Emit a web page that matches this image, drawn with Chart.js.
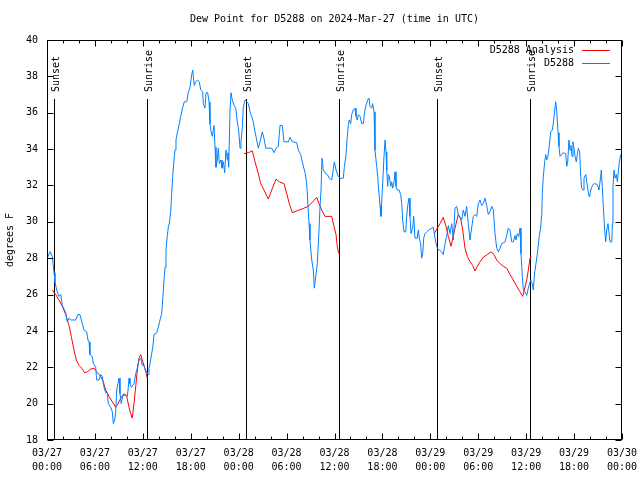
<!DOCTYPE html>
<html><head><meta charset="utf-8">
<script src="https://cdn.jsdelivr.net/npm/chart.js@4.4.1/dist/chart.umd.min.js"></script>
<style>html,body{margin:0;padding:0;background:#fff}canvas{display:block}</style>
</head><body>
<canvas id="c" width="640" height="480"></canvas>
<script>
const TITLE = 'Dew Point for D5288 on 2024-Mar-27 (time in UTC)';
const Y_LABEL = 'degrees F';
const SERIES_OBS = 'D5288';
const SERIES_ANA = 'D5288 Analysis';
const xTickHours = [0,6,12,18,24,30,36,42,48,54,60,66,72];
const yTickValues = [18,20,22,24,26,28,30,32,34,36,38,40];
const sunEventHours = [0.92, 12.56, 24.96, 36.6, 48.87, 60.52];
const sunEventLabels = ['Sunset','Sunrise','Sunset','Sunrise','Sunset','Sunrise'];

// observations [hours since 03/27 00:00 UTC, dew point F]
const obsMar27 = [[0.04,28.0],[0.38,28.36],[0.66,28.1],[0.88,27.2],[1.0,26.7],[1.21,26.25],[1.5,25.9],[1.72,26.0],[1.92,25.4],[2.34,25.0],[2.54,24.5],[2.75,24.7],[2.97,24.6],[3.59,24.6],[3.88,24.9],[4.13,24.9],[4.42,24.4],[4.63,24.05],[4.97,23.95],[5.13,23.5],[5.26,23.4],[5.38,22.7],[5.67,22.6],[5.8,22.2],[6.1,22.0],[6.22,21.3],[6.51,21.3],[6.72,21.6],[6.92,21.5],[7.14,20.9],[7.35,20.6],[7.55,20.6],[7.68,20.0],[7.98,19.8],[8.18,19.55],[8.3,18.9],[8.48,19.1],[8.6,19.55],[8.73,20.75],[8.89,21.1],[9.02,21.4],[9.14,20.55],[9.3,20.0],[9.48,20.4],[9.85,20.5],[10.06,20.4],[10.18,20.9],[10.27,21.4],[10.39,21.1],[10.56,20.9],[10.89,21.1],[11.11,21.65],[11.31,21.95],[11.52,22.4],[11.73,22.5],[11.93,22.1],[12.06,22.2],[12.23,21.95],[12.48,21.75],[12.65,21.6],[12.77,21.95],[12.9,22.2],[13.24,23.1],[13.4,23.8],[13.74,23.9],[13.94,24.2],[14.15,24.6],[14.36,24.95],[14.49,25.7],[14.65,26.8],[14.78,27.5],[14.9,28.45],[15.06,29.2],[15.19,29.7],[15.31,29.9],[15.49,30.55],[15.61,31.55],[15.74,32.5],[15.9,33.4],[16.03,33.95],[16.15,34.5],[16.32,34.9],[16.57,35.4],[16.74,35.8],[16.99,36.3],[17.19,36.6],[17.49,36.6],[17.69,37.1],[17.91,37.4],[18.12,38.1],[18.24,38.35],[18.32,38.0],[18.44,37.5],[18.62,37.7],[18.82,37.8],[19.07,37.7],[19.25,37.25],[19.5,37.15],[19.57,36.5],[19.78,36.25],[19.91,37.1],[20.12,37.1],[20.29,36.6],[20.41,35.4],[20.54,34.95],[20.7,34.7],[20.91,35.3],[21.04,34.1],[21.16,33.0],[21.32,33.4],[21.45,34.05],[21.58,33.2],[21.79,33.4],[21.91,32.95],[22.08,33.3],[22.25,32.7],[22.41,33.95],[22.58,33.4],[22.66,33.8],[22.75,33.0],[22.92,36.15],[23.04,37.1],[23.2,36.7],[23.42,36.4],[23.63,36.25],[23.83,35.5],[24.0,35.05]];
const obsMar28 = [[24.17,34.05],[24.29,34.4],[24.46,35.2],[24.58,36.3],[24.79,36.7],[25.01,36.6],[25.21,36.5],[25.42,36.05],[25.63,35.8],[25.83,35.5],[26.05,34.95],[26.26,34.5],[26.46,34.05],[26.67,34.4],[26.96,34.95],[27.17,34.6],[27.39,34.05],[28.14,34.05],[28.43,33.8],[28.68,34.05],[28.96,34.15],[29.18,35.3],[29.46,35.3],[29.68,34.4],[30.22,34.4],[30.43,34.65],[30.72,34.4],[31.27,34.35],[31.47,33.95],[31.77,33.7],[32.02,33.2],[32.31,32.7],[32.52,32.1],[32.64,31.2],[32.81,29.9],[32.93,29.0],[33.15,27.9],[33.35,27.35],[33.47,26.35],[33.65,27.0],[33.85,27.7],[34.06,29.55],[34.19,30.85],[34.31,31.75],[34.44,33.5],[34.6,32.85],[34.81,32.7],[35.1,32.6],[35.35,32.4],[35.65,32.3],[35.98,33.3],[36.19,32.85],[36.48,32.5],[36.69,32.4],[37.1,32.4],[37.23,33.0],[37.44,33.7],[37.6,34.7],[37.73,35.3],[37.85,35.6],[38.03,35.4],[38.15,35.9],[38.35,36.15],[38.57,36.25],[38.69,35.8],[38.86,35.6],[38.98,35.9],[39.19,35.8],[39.41,35.4],[39.61,35.4],[39.73,35.95],[39.94,36.4],[40.16,36.7],[40.32,36.8],[40.45,36.35],[40.66,36.25],[40.78,36.5],[40.95,36.05],[41.07,33.95],[41.28,33.05],[41.41,32.5],[41.49,31.95],[41.61,31.4],[41.7,30.9],[41.82,30.3],[41.99,31.75],[42.2,33.6],[42.33,34.5],[42.45,33.85],[42.54,32.85],[42.66,31.95],[42.74,32.6],[42.86,32.5],[43.04,31.95],[43.16,32.2],[43.29,31.85],[43.45,32.2],[43.58,32.75],[43.7,31.95],[43.86,31.75],[44.08,31.75],[44.29,31.5],[44.42,31.0],[44.54,30.1],[44.7,29.45],[44.92,29.45],[45.04,30.3],[45.17,30.9],[45.33,31.3],[45.45,30.3],[45.58,29.35],[45.79,29.7],[45.92,30.3],[46.08,29.1],[46.37,29.1],[46.49,29.55],[46.62,29.1],[46.79,28.8],[46.92,28.0],[47.05,28.25],[47.17,29.1],[47.33,29.35],[47.55,29.45],[47.96,29.6]];
const obsMar29 = [[48.37,29.7],[48.5,29.35],[48.67,28.9],[48.87,28.55],[49.12,28.45],[49.42,28.35],[49.62,28.2],[49.84,28.8],[50.05,29.2],[50.25,29.8],[50.46,29.35],[50.68,29.9],[50.88,29.0],[51.09,30.75],[51.3,30.85],[51.5,30.4],[51.72,30.2],[51.93,30.1],[52.13,30.65],[52.34,30.3],[52.55,30.85],[52.75,29.9],[52.97,29.0],[53.18,29.7],[53.38,30.3],[53.59,30.4],[53.81,30.3],[54.01,31.0],[54.22,31.2],[54.43,30.9],[54.63,31.0],[54.85,31.3],[55.06,30.9],[55.26,30.4],[55.47,30.55],[55.69,30.85],[55.89,30.65],[56.1,29.35],[56.31,28.55],[56.51,28.35],[56.72,28.55],[56.94,28.8],[57.35,28.9],[57.56,29.25],[57.76,29.65],[57.98,29.55],[58.19,28.9],[58.39,28.9],[58.6,29.25],[58.73,29.0],[58.89,29.35],[59.07,29.2],[59.23,29.65],[59.35,28.25],[59.52,27.0],[59.64,26.25],[59.85,26.15],[60.07,25.95],[60.27,26.35],[60.36,26.5],[60.57,26.8],[60.77,26.6],[60.89,26.25],[61.07,27.25],[61.23,27.7],[61.4,28.25],[61.52,28.7],[61.65,29.25],[61.82,29.7],[61.95,30.4],[62.02,31.55],[62.15,32.5],[62.32,33.3],[62.45,33.7],[62.57,33.4],[62.73,33.6],[62.9,34.2],[63.07,34.95],[63.27,35.05],[63.4,35.4],[63.57,36.15],[63.7,36.6],[63.82,36.15],[63.99,34.9],[64.11,34.15],[64.24,33.6],[64.45,33.7],[64.65,33.8],[64.95,33.75],[65.08,33.05],[65.2,33.3],[65.36,34.5],[65.49,33.95],[65.61,34.2],[65.74,33.6],[65.86,34.4],[65.99,34.05],[66.12,33.6],[66.28,33.3],[66.4,33.7],[66.53,34.05],[66.7,33.85],[66.83,32.5],[66.95,31.85],[67.12,31.75],[67.24,32.4],[67.46,32.6],[67.58,32.2],[67.74,31.75],[67.87,31.4],[67.99,31.55],[68.16,31.85],[68.37,32.05],[68.58,32.1],[68.91,32.05],[69.12,31.75],[69.33,32.5],[69.41,32.85],[69.53,31.95],[69.66,30.85],[69.83,29.55],[69.96,28.9],[70.09,29.55],[70.25,29.9],[70.38,29.35],[70.5,28.9],[70.72,28.9],[70.79,29.9],[70.87,31.95],[71.0,32.85],[71.13,32.4],[71.29,32.6],[71.42,32.2],[71.54,32.75],[71.67,33.3],[71.84,33.7]];

// analysis (night-time segments)
const anaNight1 = [[0.66,26.25],[1.09,26.0],[1.5,25.7],[1.92,25.35],[2.34,24.9],[2.75,24.3],[3.04,23.7],[3.38,22.95],[3.67,22.4],[4.01,22.1],[4.35,21.95],[4.72,21.7],[5.05,21.75],[5.47,21.9],[5.89,21.95],[6.22,21.75],[6.72,21.5],[7.05,21.2],[7.35,20.75],[7.76,20.4],[8.18,20.1],[8.6,19.8],[8.89,20.0],[9.23,20.3],[9.64,20.55],[9.98,20.4],[10.27,19.8],[10.48,19.45],[10.68,19.2],[10.89,20.0],[11.11,20.95],[11.31,21.85],[11.52,22.5],[11.73,22.7],[11.93,22.4],[12.15,22.1],[12.36,21.75],[12.56,21.4]];
const anaNight2 = [[24.67,33.75],[25.21,33.8],[25.71,33.9],[26.05,33.3],[26.46,32.65],[26.76,32.1],[27.17,31.75],[27.71,31.25],[28.14,31.75],[28.68,32.35],[29.09,32.2],[29.68,32.1],[30.02,31.55],[30.34,31.0],[30.72,30.5],[31.27,30.6],[31.89,30.7],[32.72,30.85],[33.27,31.1],[33.77,31.35],[34.06,31.0],[34.4,30.65],[34.81,30.3],[35.65,30.3],[35.94,29.75],[36.19,29.3],[36.35,28.65],[36.53,28.25]];
const anaNight3 = [[48.5,29.35],[48.87,29.65],[49.21,29.9],[49.62,30.25],[49.96,29.75],[50.25,29.2],[50.59,28.65],[50.88,29.25],[51.22,29.9],[51.5,30.4],[51.8,30.2],[52.05,29.55],[52.34,28.55],[52.63,28.1],[52.97,27.8],[53.31,27.6],[53.59,27.3],[53.88,27.55],[54.22,27.8],[54.63,28.05],[55.13,28.2],[55.6,28.35],[55.97,28.2],[56.31,27.9],[56.72,27.7],[57.14,27.55],[57.56,27.45],[57.98,27.1],[58.39,26.8],[58.82,26.45],[59.23,26.15],[59.57,25.9],[59.77,26.25],[60.07,26.8],[60.27,27.35],[60.48,28.0],[60.57,28.1]];

const FONT = '"DejaVu Sans Mono", "Liberation Mono", monospace';
const BLUE = 'rgb(0,128,255)';
const RED = 'rgb(255,0,0)';

const toPts = arr => arr.map(p => ({x: p[0], y: p[1]}));
const obsData = toPts([...obsMar27, ...obsMar28, ...obsMar29]);
const gap = h => ({x: h, y: null});
const anaData = [...toPts(anaNight1), gap(18), ...toPts(anaNight2), gap(42), ...toPts(anaNight3)];

function fmtTick(v){
  const day = 27 + Math.floor(v / 24);
  const hr = v % 24;
  return ['03/' + day, (hr < 10 ? '0' : '') + hr + ':00'];
}

const decor = {
  id: 'decor',
  beforeDatasetsDraw(chart){
    const {ctx, chartArea: a, scales: {x}} = chart;
    ctx.save();
    ctx.strokeStyle = '#000'; ctx.lineWidth = 1;
    ctx.fillStyle = '#000';
    ctx.font = '10px ' + FONT;
    sunEventHours.forEach((h, i) => {
      const px = Math.round(x.getPixelForValue(h)) + 0.5;
      ctx.beginPath(); ctx.moveTo(px, a.top + 59); ctx.lineTo(px, a.bottom); ctx.stroke();
      ctx.save();
      ctx.translate(px + 1.5, a.top + 52);
      ctx.rotate(-Math.PI / 2);
      ctx.textAlign = 'left'; ctx.textBaseline = 'middle';
      ctx.fillText(sunEventLabels[i], 0, 0);
      ctx.restore();
    });
    ctx.restore();
  },
  afterDraw(chart){
    const {ctx, chartArea: a, scales: {x, y}} = chart;
    ctx.save();
    ctx.strokeStyle = '#000'; ctx.lineWidth = 1;
    const L = Math.round(a.left) + 0.5, R = Math.round(a.right) - 0.5;
    const T = Math.round(a.top) + 0.5, B = Math.round(a.bottom) - 0.5;
    ctx.strokeRect(L, T, R - L, B - T);
    ctx.beginPath();
    for (let h = 0; h <= 72; h += 2){
      const px = Math.round(x.getPixelForValue(h)) + 0.5;
      const len = (h % 6 === 0) ? 6 : 3;
      ctx.moveTo(px, B); ctx.lineTo(px, B - len);
      ctx.moveTo(px, T); ctx.lineTo(px, T + len);
    }
    yTickValues.forEach(v => {
      const py = Math.round(y.getPixelForValue(v)) + 0.5;
      ctx.moveTo(L, py); ctx.lineTo(L + 6, py);
      ctx.moveTo(R, py); ctx.lineTo(R - 6, py);
    });
    ctx.stroke();

    ctx.fillStyle = '#000';
    ctx.font = '10px ' + FONT;
    ctx.textAlign = 'center'; ctx.textBaseline = 'middle';
    ctx.fillText(TITLE, (a.left + a.right) / 2, 19);
    ctx.save();
    ctx.translate(10, (a.top + a.bottom) / 2);
    ctx.rotate(-Math.PI / 2);
    ctx.fillText(Y_LABEL, 0, 0);
    ctx.restore();

    // legend
    ctx.textAlign = 'right';
    const lx = a.right - 48;
    [[SERIES_ANA, RED, a.top + 10], [SERIES_OBS, BLUE, a.top + 23]].forEach(([t, c, ly]) => {
      ctx.fillStyle = '#000';
      ctx.fillText(t, lx, ly);
      ctx.strokeStyle = c;
      ctx.beginPath(); ctx.moveTo(lx + 8, Math.round(ly) + 0.5); ctx.lineTo(lx + 36, Math.round(ly) + 0.5); ctx.stroke();
    });
    ctx.restore();
  }
};

new Chart(document.getElementById('c'), {
  type: 'line',
  data: {
    datasets: [
      {label: SERIES_OBS, data: obsData, borderColor: BLUE, borderWidth: 1, pointRadius: 0, tension: 0, fill: false, order: 0},
      {label: SERIES_ANA, data: anaData, borderColor: RED, borderWidth: 1, pointRadius: 0, tension: 0, fill: false, spanGaps: false, order: 1}
    ]
  },
  options: {
    responsive: false, animation: false, devicePixelRatio: 1,
    layout: {padding: {top: 40, right: 18, left: 0, bottom: 0}},
    plugins: {legend: {display: false}, tooltip: {enabled: false}, title: {display: false}},
    scales: {
      x: {
        type: 'linear', min: 0, max: 72,
        grid: {display: false, drawTicks: false}, border: {display: false},
        afterBuildTicks(s){ s.ticks = xTickHours.map(v => ({value: v})); },
        afterFit(s){ s.height = 40; s.paddingLeft = 0; s.paddingRight = 0; },
        ticks: {autoSkip: false, maxRotation: 0, minRotation: 0, padding: 6, color: '#000',
          font: {family: FONT, size: 10, lineHeight: 1.4}, callback: v => fmtTick(v)}
      },
      y: {
        type: 'linear', min: 18, max: 40,
        grid: {display: false, drawTicks: false}, border: {display: false},
        afterBuildTicks(s){ s.ticks = yTickValues.map(v => ({value: v})); },
        afterFit(s){ s.width = 47; s.paddingTop = 0; s.paddingBottom = 0; },
        ticks: {padding: 9, color: '#000', font: {family: FONT, size: 10}, callback: v => String(v)}
      }
    }
  },
  plugins: [decor]
});
</script>
</body></html>
